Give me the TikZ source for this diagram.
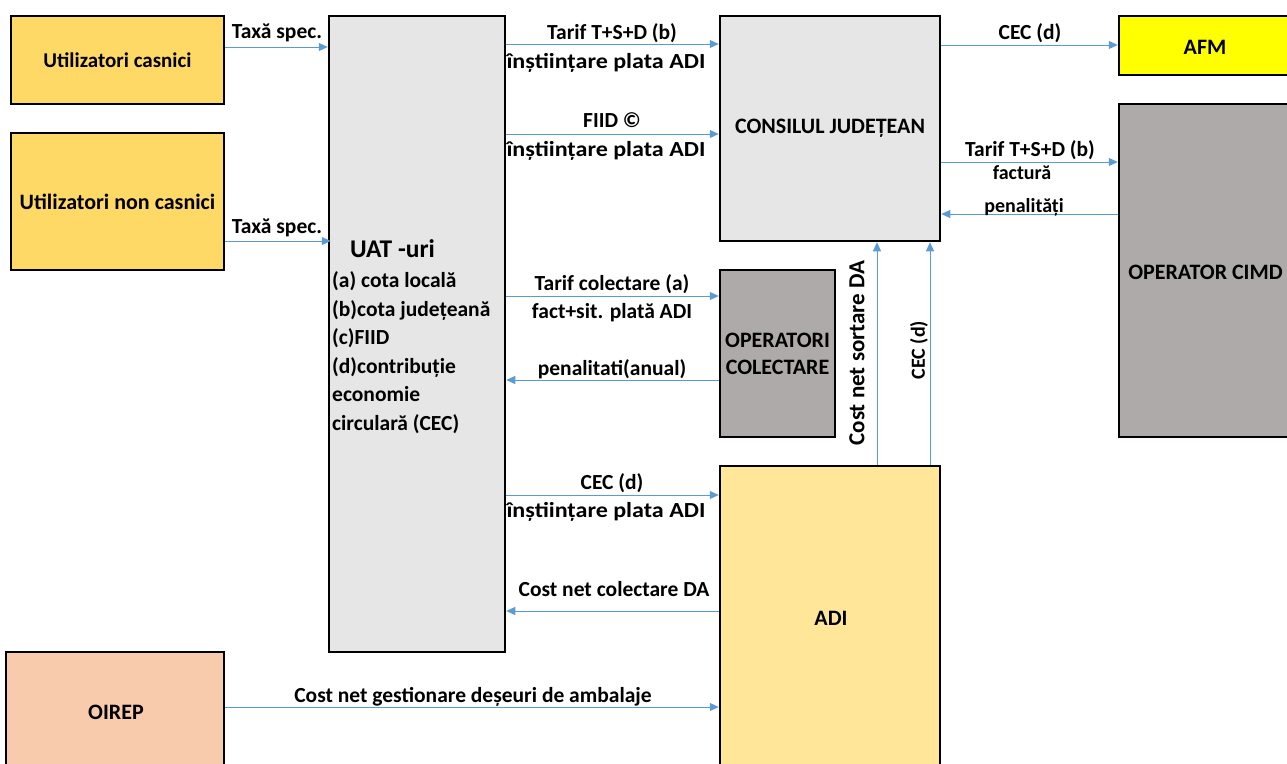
\documentclass[tikz,border=0pt]{standalone}
\usepackage{fontspec}
\setmainfont{Carlito}
\newfontfamily\widefont[FakeStretch=1.12]{Carlito}
\usetikzlibrary{arrows.meta}
\definecolor{gold}{HTML}{FFD966}
\definecolor{lgray}{HTML}{E6E6E6}
\definecolor{dgray}{HTML}{AEAAAA}
\definecolor{adiy}{HTML}{FFE699}
\definecolor{peach}{HTML}{F8CBAD}
\definecolor{afmy}{HTML}{FFFF00}
\definecolor{arrblue}{HTML}{5B9BD5}
\tikzset{
  box/.style={draw=black, line width=2.5pt, inner sep=0pt, font=\fontsize{22}{27}\selectfont\bfseries, align=center},
  lbl/.style={inner sep=0pt, font=\fontsize{21.5}{26}\selectfont\bfseries},
  wlbl/.style={inner sep=0pt, font=\widefont\fontsize{21.5}{26}\selectfont\bfseries},
  slbl/.style={inner sep=0pt, font=\fontsize{20}{24}\selectfont\bfseries},
  arr/.style={draw=arrblue, line width=1pt, -{Triangle[length=9pt,width=8pt]}},
}
\begin{document}
\begin{tikzpicture}[x=1pt,y=-1pt]
\useasboundingbox (0,0) rectangle (1287,763);
\clip (0,0) rectangle (1287,763);
% boxes
\node[box, fill=gold, minimum width=213pt, minimum height=88pt, font=\fontsize{21}{26}\selectfont\bfseries] (uc) at (117.5,60) {Utilizatori casnici};
\node[box, fill=gold, minimum width=213pt, minimum height=137pt] (unc) at (117.5,201.5) {Utilizatori non casnici};
\node[box, fill=lgray, minimum width=176pt, minimum height=636pt] (uat) at (417,334) {};
\node[box, fill=lgray, minimum width=220pt, minimum height=225pt] (cj) at (830,128.5) {CONSILUL JUDEȚEAN};
\node[box, fill=afmy, minimum width=181pt, minimum height=59pt] (afm) at (1209.5,45.5) {};
\node[box, fill=dgray, minimum width=181pt, minimum height=333pt] (cimd) at (1209.5,270.5) {};
\node[box, fill=dgray, minimum width=115pt, minimum height=167pt] (oc) at (777.5,353.5) {OPERATORI\\COLECTARE};
\node[box, fill=adiy, minimum width=220pt, minimum height=324pt] (adi) at (830,628) {};
\node[box, fill=peach, minimum width=218pt, minimum height=138pt] (oirep) at (115,721) {};
% box texts
\node[box, draw=none] (afmt) at (1205,47) {AFM};
\node[box, draw=none, anchor=west] (cimdt) at (1127,272) {OPERATOR CIMD};
\node[box, draw=none] (adit) at (831,618) {ADI};
\node[box, draw=none] (oirept) at (116,712) {OIREP};
\node[inner sep=0pt, anchor=west, font=\fontsize{25.5}{30}\selectfont\bfseries] (uatt) at (350,249) {UAT -uri};
\node[inner sep=0pt, anchor=north west, align=left, font=\fontsize{21.5}{28.5}\selectfont\bfseries] (uatl) at (332,271.5) {(a) cota locală\\(b)cota județeană\\(c)FIID\\(d)contribuție\\economie\\circulară (CEC)};
% level coordinates
\coordinate (y1) at (0,47);
\coordinate (y2) at (0,241);
\coordinate (y3) at (0,44);
\coordinate (y4) at (0,134);
\coordinate (y5) at (0,45);
\coordinate (y6) at (0,162);
\coordinate (y7) at (0,214);
\coordinate (y8) at (0,296);
\coordinate (y9) at (0,380);
\coordinate (y10) at (0,495);
\coordinate (y11) at (0,611);
\coordinate (y12) at (0,707);
\coordinate (x1) at (877,0);
\coordinate (x2) at (930,0);
% arrows
\draw[arr] (uc.east |- y1) -- (uat.west |- y1);
\draw[arr] (unc.east |- y2) -- ([xshift=3pt]uat.west |- y2);
\draw[arr] (uat.east |- y3) -- (cj.west |- y3);
\draw[arr] (uat.east |- y4) -- (cj.west |- y4);
\draw[arr] (cj.east |- y5) -- (afm.west |- y5);
\draw[arr] (cj.east |- y6) -- (cimd.west |- y6);
\draw[arr] (cimd.west |- y7) -- (cj.east |- y7);
\draw[arr] (uat.east |- y8) -- (oc.west |- y8);
\draw[arr] (oc.west |- y9) -- (uat.east |- y9);
\draw[arr] (uat.east |- y10) -- (adi.west |- y10);
\draw[arr] (adi.west |- y11) -- (uat.east |- y11);
\draw[arr] (oirep.east |- y12) -- (adi.west |- y12);
\draw[arr] (adi.north -| x1) -- (cj.south -| x1);
\draw[arr] (adi.north -| x2) -- (cj.south -| x2);
% labels
\node[lbl] (l1) at (277,33) {Taxă spec.};
\node[lbl] (l2) at (277,228) {Taxă spec.};
\node[lbl] (l3a) at (612,33) {Tarif T+S+D (b)};
\node[wlbl] (l3b) at (606,63) {înștiințare plata ADI};
\node[lbl] (l4a) at (612,120) {FIID ©};
\node[wlbl] (l4b) at (606,151) {înștiințare plata ADI};
\node[lbl] (l5) at (1030,33) {CEC (d)};
\node[lbl] (l6a) at (1030,150) {Tarif T+S+D (b)};
\node[slbl] (l6b) at (1022,173) {factură};
\node[slbl] (l7) at (1024,207) {penalități};
\node[lbl] (l8a) at (612,284) {Tarif colectare (a)};
\node[lbl] (l8b) at (612,313) {fact+sit. plată ADI};
\node[lbl] (l9) at (612,369) {penalitati(anual)};
\node[lbl] (l10a) at (612,483) {CEC (d)};
\node[wlbl] (l10b) at (606,512) {înștiințare plata ADI};
\node[lbl] (l11) at (614,589) {Cost net colectare DA};
\node[lbl] (l12) at (473,697) {Cost net gestionare deșeuri de ambalaje};
\node[lbl, font=\fontsize{23}{27}\selectfont\bfseries, rotate=90] (l13) at (857,353) {Cost net sortare DA};
\node[slbl, rotate=90] (l14) at (919,350) {CEC (d)};
\end{tikzpicture}
\end{document}
